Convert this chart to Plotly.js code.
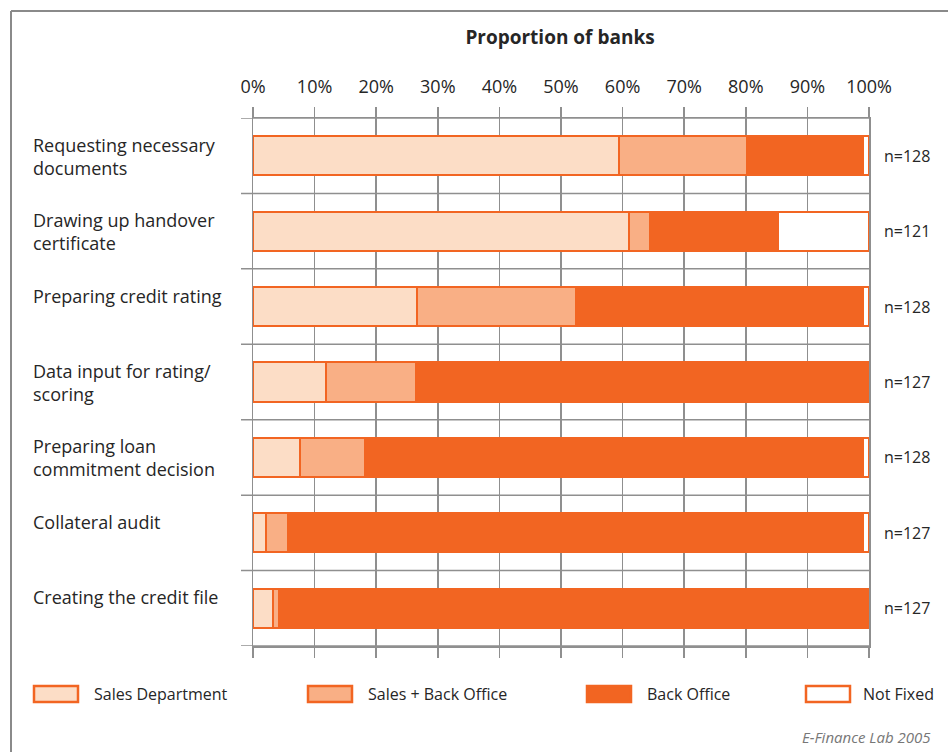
<!DOCTYPE html>
<html>
<head>
<meta charset="utf-8">
<script src="https://cdn.plot.ly/plotly-3.0.1.min.js"></script>
<style>
  html, body { margin: 0; padding: 0; background: #fff; }
  #chart { width: 948px; height: 752px; }
</style>
</head>
<body>
<div id="chart"></div>
<script>
// ---- data ----
const categories = [
  "Requesting necessary<br>documents",
  "Drawing up handover<br>certificate",
  "Preparing credit rating",
  "Data input for rating/<br>scoring",
  "Preparing loan<br>commitment decision",
  "Collateral audit",
  "Creating the credit file"
];
const salesDept  = [59.4, 61.0, 26.6, 11.8, 7.6, 2.1, 3.2];
const salesBack  = [20.8,  3.5, 25.8, 14.7, 10.5, 3.5, 1.0];
const backOffice = [18.8, 20.8, 46.6, 73.5, 80.9, 93.4, 95.8];
const notFixed   = [ 1.0, 14.7,  1.0,  0.0,  1.0,  1.0,  0.0];
const nValues    = [128, 121, 128, 127, 128, 127, 127];
const seriesNames = ["Sales Department", "Sales + Back Office", "Back Office", "Not Fixed"];
const xTicks = [0, 10, 20, 30, 40, 50, 60, 70, 80, 90, 100];
const xTickLabels = ["0%", "10%", "20%", "30%", "40%", "50%", "60%", "70%", "80%", "90%", "100%"];

// ---- styling ----
const ORANGE = "#F26522";
const fills = ["#FCDDC6", "#F9AF85", ORANGE, "#FFFFFF"];
const GRID = "#8f8f8f";
const TXT = "#262626";
const FONT = "Open Sans, sans-serif";

// plot area in pixels
const L = 253, R = 869, T = 118, B = 646, W = 948, H = 752;
const px = x => (x - L) / (R - L);
const py = y => (B - y) / (B - T);

const seriesData = [salesDept, salesBack, backOffice, notFixed];
const traces = seriesData.map((vals, i) => ({
  type: "bar",
  orientation: "h",
  name: seriesNames[i],
  y: categories,
  x: vals,
  marker: { color: fills[i], line: { color: ORANGE, width: 2 } },
  hoverinfo: "skip",
  showlegend: false
}));

const annotations = [];
const shapes = [];

// category separators (boundaries between categories)
for (let i = 0; i <= categories.length; i++) {
  shapes.push({
    type: "line", layer: "below", xref: "paper", yref: "y",
    x0: px(241), x1: 1, y0: i - 0.5, y1: i - 0.5,
    line: { color: GRID, width: 1.5 }
  });
}

categories.forEach((c, i) => {
  annotations.push({
    xref: "paper", yref: "y", x: px(31), y: c,
    xanchor: "left", yanchor: "top", yshift: 25, align: "left",
    text: c, showarrow: false,
    font: { family: FONT, size: 18, color: TXT }
  });
  annotations.push({
    xref: "paper", yref: "y", x: 1, y: c,
    xanchor: "left", yanchor: "middle", xshift: 13,
    text: "n=" + nValues[i], showarrow: false,
    font: { family: FONT, size: 16, color: TXT }
  });
});

// legend (custom)
const legendX = [34, 308, 587, 806];
const legendTextX = [92, 366, 645, 861];
seriesNames.forEach((nm, i) => {
  shapes.push({
    type: "rect", xref: "paper", yref: "paper",
    x0: px(legendX[i]), x1: px(legendX[i] + 44),
    y0: py(702), y1: py(686),
    fillcolor: fills[i], line: { color: ORANGE, width: 2.5 }
  });
  annotations.push({
    xref: "paper", yref: "paper", x: px(legendTextX[i]), y: py(694),
    xanchor: "left", yanchor: "middle", text: nm, showarrow: false,
    font: { family: FONT, size: 16, color: TXT }
  });
});

// frame corner lines
shapes.push({ type: "line", xref: "paper", yref: "paper",
  x0: px(11), x1: px(11), y0: py(11), y1: py(752), line: { color: "#8a8a8a", width: 2 } });
shapes.push({ type: "line", xref: "paper", yref: "paper",
  x0: px(11), x1: px(948), y0: py(11), y1: py(11), line: { color: "#8a8a8a", width: 2 } });

annotations.push({
  xref: "paper", yref: "paper", x: px(933), y: py(737),
  xanchor: "right", yanchor: "middle", text: "<i>E-Finance Lab 2005</i>",
  showarrow: false, font: { family: FONT, size: 15, color: "#777777" }
});

const layout = {
  width: W, height: H,
  margin: { l: L, r: W - R, t: T, b: H - B, pad: 0 },
  paper_bgcolor: "#fff", plot_bgcolor: "#fff",
  barmode: "stack",
  bargap: 0.48,
  showlegend: false,
  title: {
    text: "<b>Proportion of banks</b>",
    x: px(560), xref: "paper", xanchor: "center",
    y: 1 - 37 / H, yref: "container", yanchor: "middle",
    font: { family: FONT, size: 19, color: TXT }
  },
  xaxis: {
    side: "top", range: [0, 100], tickmode: "array",
    tickvals: xTicks, ticktext: xTickLabels,
    showgrid: true, gridcolor: GRID, gridwidth: 1.5,
    showline: true, linecolor: GRID, linewidth: 1.5, mirror: "ticks",
    ticks: "outside", ticklen: 10, tickcolor: GRID, tickwidth: 1.5,
    ticklabelstandoff: 6,
    tickfont: { family: FONT, size: 18, color: TXT },
    zeroline: false, fixedrange: true
  },
  yaxis: {
    type: "category", range: [categories.length - 0.5, -0.5],
    showticklabels: false, ticks: "",
    showgrid: false,
    showline: true, linecolor: GRID, linewidth: 1.5, mirror: true,
    zeroline: false, fixedrange: true
  },
  shapes: shapes,
  annotations: annotations
};

Plotly.newPlot("chart", traces, layout, { displayModeBar: false, staticPlot: true });
</script>
</body>
</html>
